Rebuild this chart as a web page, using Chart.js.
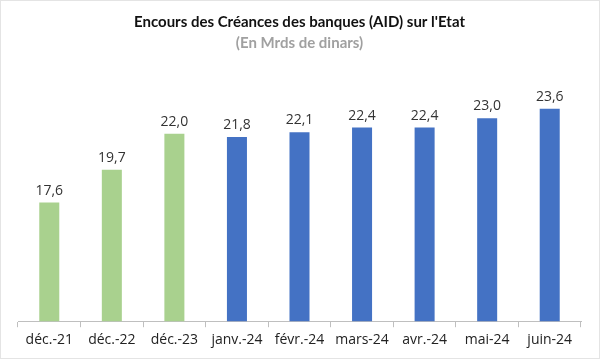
<!DOCTYPE html>
<html>
<head>
<meta charset="utf-8">
<script src="https://cdn.jsdelivr.net/npm/chart.js@4.4.0/dist/chart.umd.min.js"></script>
<style>
  html, body { margin: 0; padding: 0; background: #fff; }
  #wrap { position: relative; width: 598px; height: 357px; border: 1px solid #e4e4e4; }
</style>
</head>
<body>
<div id="wrap"><canvas id="creancesChart"></canvas></div>
<script>
const labels = ['déc.-21', 'déc.-22', 'déc.-23', 'janv.-24', 'févr.-24', 'mars-24', 'avr.-24', 'mai-24', 'juin-24'];
const encours = [17.6, 19.7, 22.0, 21.8, 22.1, 22.4, 22.4, 23.0, 23.6];
const barColors = ['#A9D18E', '#A9D18E', '#A9D18E', '#4472C4', '#4472C4', '#4472C4', '#4472C4', '#4472C4', '#4472C4'];

// values above the bars, comma as decimal sign
const valueLabels = {
  id: 'valueLabels',
  afterDatasetsDraw(chart) {
    const ctx = chart.ctx;
    const meta = chart.getDatasetMeta(0);
    ctx.save();
    ctx.font = '14px "Open Sans", sans-serif';
    ctx.fillStyle = '#333';
    ctx.textAlign = 'center';
    ctx.textBaseline = 'bottom';
    meta.data.forEach((bar, i) => {
      ctx.fillText(encours[i].toFixed(1).replace('.', ','), bar.x, bar.y - 5);
    });
    ctx.restore();
  }
};

const ctx = document.getElementById('creancesChart').getContext('2d');
new Chart(ctx, {
  type: 'bar',
  data: {
    labels: labels,
    datasets: [{
      data: encours,
      backgroundColor: barColors,
      barPercentage: 0.32,
      categoryPercentage: 1.0
    }]
  },
  options: {
    responsive: true,
    maintainAspectRatio: false,
    animation: false,
    layout: { padding: { left: 17, right: 18, bottom: 6 } },
    plugins: {
      legend: { display: false },
      tooltip: { enabled: false },
      title: {
        display: true,
        text: "Encours des Créances des banques (AID) sur l'Etat",
        color: '#111',
        font: { family: 'Lato, "Open Sans", sans-serif', size: 15, weight: 'bold' },
        padding: { top: 12, bottom: 3 }
      },
      subtitle: {
        display: true,
        text: '(En Mrds de dinars)',
        color: '#a0a0a0',
        font: { family: 'Lato, "Open Sans", sans-serif', size: 15, weight: 'bold' },
        padding: { top: 0, bottom: 35 }
      }
    },
    scales: {
      x: {
        grid: {
          offset: true,
          drawOnChartArea: false,
          drawTicks: true,
          tickLength: 6,
          color: '#bfbfbf'
        },
        border: { color: '#bfbfbf' },
        ticks: {
          color: '#222',
          padding: 4,
          maxRotation: 0,
          font: { family: '"Open Sans", sans-serif', size: 14 }
        }
      },
      y: {
        display: false,
        min: 10,
        max: 25
      }
    }
  },
  plugins: [valueLabels]
});
</script>
</body>
</html>
